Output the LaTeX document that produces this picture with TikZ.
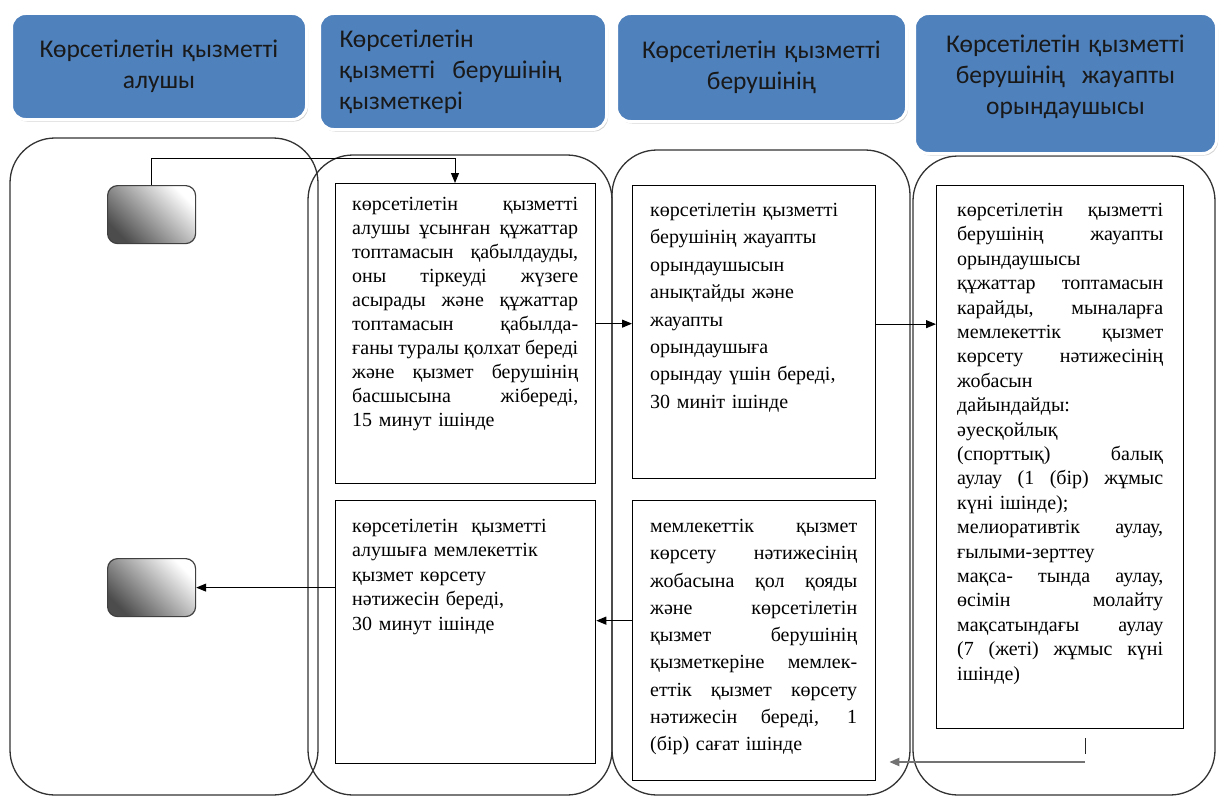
\documentclass[tikz,border=0pt]{standalone}
\usepackage{fontspec}
\setmainfont{Liberation Serif}
\newfontfamily\hdrfont{Carlito}
\usepackage{tikz}
\usetikzlibrary{calc}
\usetikzlibrary{arrows.meta}
\usetikzlibrary{shadows}
\usetikzlibrary{positioning}

\definecolor{hdrblue}{RGB}{79,129,189}
\setlength{\parindent}{0pt}
% one justified line
\newcommand{\jl}[1]{\makebox[\hsize][s]{\spaceskip=0pt\xspaceskip=0pt\relax #1}\\}

\begin{document}
\begin{tikzpicture}[x=1pt, y=-1pt,
    lane/.style = {draw=black!80, line width=1.3pt, rounded corners=45pt},
    hdr/.style = {draw=white, line width=3pt, fill=hdrblue, rounded corners=14pt,
        drop shadow={opacity=0.35, shadow xshift=1.5pt, shadow yshift=-2pt},
        anchor=north west, inner xsep=20pt, inner ysep=0pt,
        font=\hdrfont\fontsize{25.5}{31}\selectfont, text=black!90},
    stepbox/.style = {draw, line width=1.3pt, anchor=north west, inner sep=0pt},
    steptxt/.style = {anchor=north west, inner sep=0pt, align=left},
    endbox/.style = {draw=black!75, line width=1.2pt, rounded corners=10pt,
        top color=white, bottom color=black!70, shading angle=-45,
        anchor=north west, minimum width=88pt, minimum height=58pt},
    arr/.style = {-{Triangle[length=10pt, width=8pt]}, line width=1pt}]

    \useasboundingbox (0,0) rectangle (1221,800);

    % lanes
    \draw[lane] (10,138) rectangle (318,795);
    \draw[lane] (308,155) rectangle (612,795);
    \draw[lane] (612,150) rectangle (910,795);
    \draw[lane] (913,156) rectangle (1215,795);

    % headers
    \node[hdr, text width=255pt, minimum height=106pt, align=center] (h1) at (10,12)
        {Көрсетілетін қызметті\\алушы};
    \node[hdr, text width=247pt, minimum height=116pt, align=left] (h2) at (318,12)
        {Көрсетілетін\\қызметті \ берушінің\\қызметкері};
    \node[hdr, text width=250pt, minimum height=108pt, align=center] (h3) at (615,12)
        {Көрсетілетін қызметті\\берушінің};
    \node[hdr, text width=262pt, minimum height=140pt, align=center] (h4) at (913,12)
        {Көрсетілетін қызметті\\берушінің \ жауапты\\орындаушысы\par\vspace*{14pt}};

    % start and end
    \node[endbox] (g1) at (107,185) {};
    \node[endbox] (g2) at (107,558) {};

    % steps
    \node[stepbox, minimum width=260pt, minimum height=300pt] (b1) at (335,183) {};
    \node[steptxt, text width=226pt, font=\fontsize{20}{24}\selectfont] (t1)
        at ([xshift=17pt, yshift=-14pt]b1.north west)
        {\jl{көрсетілетін қызметті}
         \jl{алушы ұсынған құжаттар}
         \jl{топтамасын қабылдауды,}
         \jl{оны тіркеуді жүзеге}
         \jl{асырады және құжаттар}
         \jl{топтамасын қабылда-}
         \jl{ғаны туралы қолхат береді}
         \jl{және қызмет берушінің}
         \jl{басшысына жібереді,}
         15 минут ішінде};

    \node[stepbox, minimum width=243pt, minimum height=293pt] (b2) at (632,185) {};
    \node[steptxt, text width=210pt, font=\fontsize{20}{27.4}\selectfont] (t2)
        at ([xshift=18pt, yshift=-18pt]b2.north west)
        {көрсетілетін қызметті\\
         берушінің жауапты\\
         орындаушысын\\
         анықтайды және\\
         жауапты\\
         орындаушыға\\
         орындау үшін береді,\\
         30 миніт ішінде};

    \node[stepbox, minimum width=247pt, minimum height=543pt] (b3) at (936,185) {};
    \node[steptxt, text width=206pt, font=\fontsize{20}{24.4}\selectfont] (t3)
        at ([xshift=21pt, yshift=-18pt]b3.north west)
        {\jl{көрсетілетін қызметті}
         \jl{берушінің жауапты}
         орындаушысы\\
         \jl{құжаттар топтамасын}
         \jl{карайды, мыналарға}
         \jl{мемлекеттік қызмет}
         \jl{көрсету нәтижесінің}
         жобасын\\
         дайындайды:\\
         әуесқойлық\\
         \jl{(спорттық) балық}
         \jl{аулау (1 (бір) жұмыс}
         күні ішінде);\\
         \jl{мелиоративтік аулау,}
         ғылыми-зерттеу\\
         \jl{мақса- тында аулау,}
         \jl{өсімін молайту}
         \jl{мақсатындағы аулау}
         \jl{(7 (жеті) жұмыс күні}
         ішінде)};

    \node[stepbox, minimum width=260pt, minimum height=263pt] (b4) at (335,500) {};
    \node[steptxt, text width=226pt, font=\fontsize{20}{24.5}\selectfont] (t4)
        at ([xshift=17pt, yshift=-19pt]b4.north west)
        {көрсетілетін \ қызметті\\
         алушыға мемлекеттік\\
         қызмет көрсету\\
         нәтижесін береді,\\
         30 минут ішінде};

    \node[stepbox, minimum width=243pt, minimum height=280pt] (b5) at (632,500) {};
    \node[steptxt, text width=207pt, font=\fontsize{20}{27.3}\selectfont] (t5)
        at ([xshift=18pt, yshift=-19pt]b5.north west)
        {\jl{мемлекеттік қызмет}
         \jl{көрсету нәтижесінің}
         \jl{жобасына қол қояды}
         \jl{және көрсетілетін}
         \jl{қызмет берушінің}
         \jl{қызметкеріне мемлек-}
         \jl{еттік қызмет көрсету}
         \jl{нәтижесін береді, 1}
         (бір) сағат ішінде};

    % flow
    \coordinate (turn) at (455,158);
    \draw[arr] (g1.north) |- (turn) -- (turn |- b1.north);
    \draw[arr] ([yshift=10pt]b1.east) -- ([yshift=10pt]b1.east -| b2.west);
    \draw[arr] ([yshift=8pt]b2.east) -- ([yshift=8pt]b2.east -| b3.west);
    \coordinate (drop) at (1085,738);
    \draw[black!85, line width=1pt] (drop) -- ++(0,16);
    \draw[arr, black!55, line width=2pt, shorten >=13pt]
        ([yshift=-24pt]drop) -- ([yshift=-24pt]drop -| b5.east);
    \draw[arr] ([yshift=20pt]b5.west) -- ([yshift=20pt]b5.west -| b4.east);
    \draw[arr] (g2.east -| b4.west) -- (g2.east);
\end{tikzpicture}
\end{document}
